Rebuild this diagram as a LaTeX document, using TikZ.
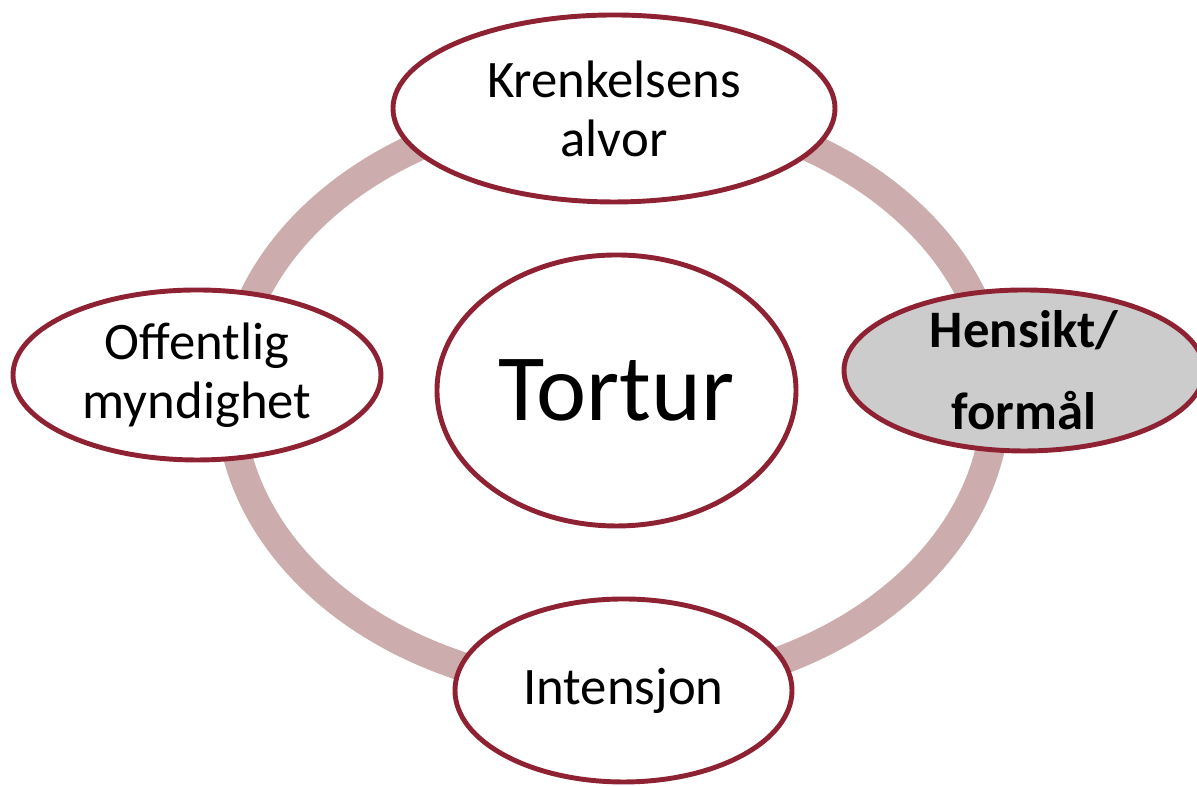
\documentclass[tikz,border=0pt]{standalone}
\usepackage{fontspec}
\setmainfont{Carlito}
\usetikzlibrary{shapes.geometric}
\definecolor{ringpink}{RGB}{204,172,173}
\definecolor{rimred}{RGB}{142,34,50}
\definecolor{facetgray}{RGB}{204,204,204}
\tikzset{
    facet/.style={ellipse, draw=rimred, line width=1.4pt, fill=white,
        inner sep=-1mm, align=center, font=\fontsize{15}{16.8}\selectfont},
    ring/.style={ringpink, line width=0.29cm}
}
\begin{document}
\begin{tikzpicture}
    \useasboundingbox (0,0) rectangle (11.97cm,7.86cm);
    \draw[ring] (6.13cm,3.88cm) ellipse (3.83cm and 2.92cm);
    \node[facet, minimum width=4.42cm, minimum height=1.87cm] (alvor) at (6.14cm,6.775cm) {Krenkelsens\\alvor};
    \node[facet, minimum width=3.68cm, minimum height=1.70cm] (myndighet) at (1.97cm,4.11cm) {Offentlig\\myndighet};
    \node[facet, minimum width=3.59cm, minimum height=2.71cm, font=\fontsize{27}{32}\selectfont] (tortur) at (6.165cm,3.955cm) {Tortur};
    \node[facet, minimum width=3.60cm, minimum height=1.61cm, fill=facetgray, font=\fontsize{15}{23.3}\selectfont\bfseries] (hensikt) at (10.24cm,4.155cm) {Hensikt/\\formål};
    \node[facet, minimum width=3.37cm, minimum height=1.83cm] (intensjon) at (6.235cm,0.955cm) {Intensjon};
\end{tikzpicture}
\end{document}
